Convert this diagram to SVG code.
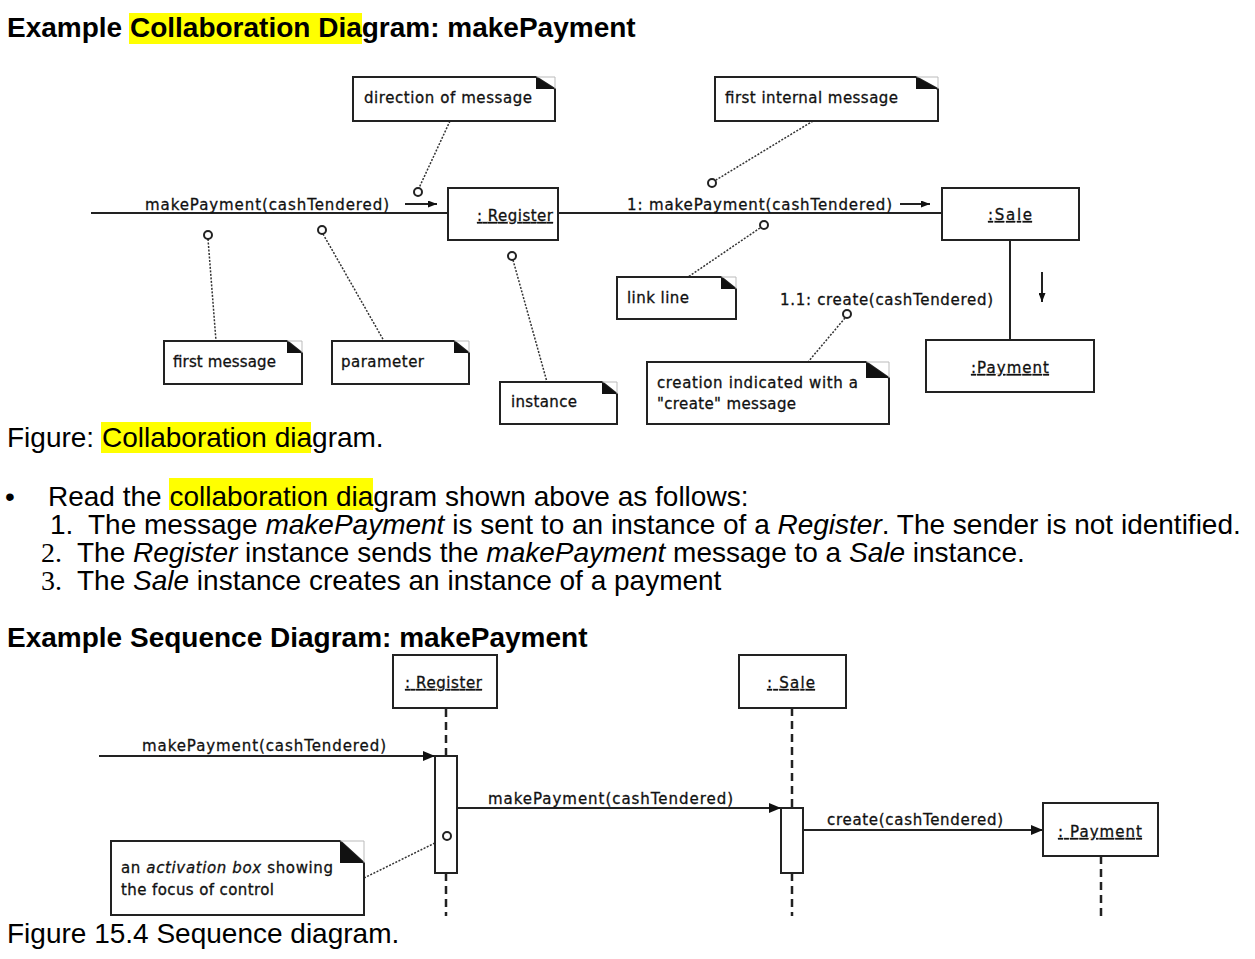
<svg xmlns="http://www.w3.org/2000/svg" width="1255" height="959" viewBox="0 0 1255 959">
<style>
.body{font-family:"Liberation Sans",Arial,sans-serif;font-size:28px;fill:#000}
.bold{font-weight:bold}
.serif{font-family:"Liberation Serif","Times New Roman",serif}
.lbl{font-family:"DejaVu Sans",Verdana,sans-serif;font-size:15px;fill:#111;stroke:#111;stroke-width:0.3}
.u{text-decoration:underline}
.box{fill:#fff;stroke:#222;stroke-width:2}
.fold{fill:#111}
.corner{fill:none;stroke:#bbb;stroke-width:1}
.link{stroke:#222;stroke-width:2;fill:none}
.dot{stroke:#333;stroke-width:1.5;stroke-dasharray:2 1.5;fill:none}
.circ{fill:#fff;stroke:#222;stroke-width:2}
.life{stroke:#222;stroke-width:2.5;stroke-dasharray:8 5;fill:none}
.hl{fill:#ffff00}
</style>
<defs>
<marker id="sm" markerUnits="userSpaceOnUse" markerWidth="9" markerHeight="7" refX="9" refY="3.5" orient="auto"><path d="M0,0 L9,3.5 L0,7 z" fill="#111"/></marker>
<marker id="big" markerUnits="userSpaceOnUse" markerWidth="12" markerHeight="10" refX="12" refY="5" orient="auto"><path d="M0,0 L12,5 L0,10 z" fill="#111"/></marker>
</defs>
<rect width="1255" height="959" fill="#fff"/>

<!-- text page -->
<rect class="hl" x="129" y="13" width="233" height="31"/>
<text class="body bold" x="7" y="37">Example Collaboration Diagram: makePayment</text>

<rect class="hl" x="101" y="422" width="210" height="31"/>
<text class="body" x="7" y="447">Figure: Collaboration diagram.</text>

<rect class="hl" x="169" y="478" width="204" height="32"/>
<text class="body" x="5" y="506">•</text>
<text class="body" x="48" y="506">Read the collaboration diagram shown above as follows:</text>
<text class="body" x="50" y="534">1.</text>
<text class="body" x="88" y="534">The message <tspan font-style="italic">makePayment</tspan> is sent to an instance of a <tspan font-style="italic">Register</tspan>. The sender is not identified.</text>
<text class="body serif" x="41" y="562">2.</text>
<text class="body" x="77" y="562">The <tspan font-style="italic">Register</tspan> instance sends the <tspan font-style="italic">makePayment</tspan> message to a <tspan font-style="italic">Sale</tspan> instance.</text>
<text class="body serif" x="41" y="590">3.</text>
<text class="body" x="77" y="590">The <tspan font-style="italic">Sale</tspan> instance creates an instance of a payment</text>

<text class="body bold" x="7" y="647">Example Sequence Diagram: makePayment</text>
<text class="body" x="7" y="943">Figure 15.4 Sequence diagram.</text>

<!-- collaboration connectors -->
<g id="collab-connectors">
<line class="link" x1="91" y1="213" x2="448" y2="213"/>
<line class="link" x1="558" y1="213" x2="942" y2="213"/>
<line class="link" x1="1010" y1="240" x2="1010" y2="340"/>
<line class="link" x1="405" y1="204" x2="437" y2="204" stroke-width="1.5" marker-end="url(#sm)"/>
<line class="link" x1="900" y1="204" x2="930" y2="204" stroke-width="1.5" marker-end="url(#sm)"/>
<line class="link" x1="1042" y1="272" x2="1042" y2="302" stroke-width="1.5" marker-end="url(#sm)"/>
<line class="dot" x1="450" y1="121" x2="419" y2="188"/>
<line class="dot" x1="208" y1="239" x2="216" y2="341"/>
<line class="dot" x1="323" y1="234" x2="384" y2="341"/>
<line class="dot" x1="513" y1="260" x2="547" y2="382"/>
<line class="dot" x1="813" y1="121" x2="716" y2="180"/>
<line class="dot" x1="760" y1="228" x2="688" y2="277"/>
<line class="dot" x1="845" y1="318" x2="808" y2="362"/>
<circle class="circ" cx="418" cy="192" r="4"/>
<circle class="circ" cx="208" cy="235" r="4"/>
<circle class="circ" cx="322" cy="230" r="4"/>
<circle class="circ" cx="512" cy="256" r="4"/>
<circle class="circ" cx="712" cy="183" r="4"/>
<circle class="circ" cx="764" cy="225" r="4"/>
<circle class="circ" cx="847" cy="314" r="4"/>
<text class="lbl" x="145" y="210" textLength="244" lengthAdjust="spacing">makePayment(cashTendered)</text>
<text class="lbl" x="627" y="210" textLength="265" lengthAdjust="spacing">1: makePayment(cashTendered)</text>
<text class="lbl" x="780" y="305" textLength="213" lengthAdjust="spacing">1.1: create(cashTendered)</text>
</g>

<!-- collaboration objects -->
<g id="c-register">
<rect class="box" x="448" y="188" width="110" height="52"/>
<text class="lbl u" x="477" y="221" textLength="76" lengthAdjust="spacing">: Register</text>
</g>
<g id="c-sale">
<rect class="box" x="942" y="188" width="137" height="52"/>
<text class="lbl u" x="988" y="220" textLength="44" lengthAdjust="spacing">:Sale</text>
</g>
<g id="c-payment">
<rect class="box" x="926" y="340" width="168" height="52"/>
<text class="lbl u" x="971" y="373" textLength="78" lengthAdjust="spacing">:Payment</text>
</g>

<!-- notes -->
<g id="n-direction">
<path class="box" d="M353,77 H536 L555,89 V121 H353 Z"/>
<path class="corner" d="M536,77 H555 V89"/>
<path class="fold" d="M536,77 L555,89 H536 Z"/>
<text class="lbl" x="364" y="103" textLength="168" lengthAdjust="spacing">direction of message</text>
</g>
<g id="n-first-internal">
<path class="box" d="M715,77 H916 L938,89 V121 H715 Z"/>
<path class="corner" d="M916,77 H938 V89"/>
<path class="fold" d="M916,77 L938,89 H916 Z"/>
<text class="lbl" x="725" y="103" textLength="173" lengthAdjust="spacing">first internal message</text>
</g>
<g id="n-first-message">
<path class="box" d="M164,341 H287 L302,353 V384 H164 Z"/>
<path class="corner" d="M287,341 H302 V353"/>
<path class="fold" d="M287,341 L302,353 H287 Z"/>
<text class="lbl" x="173" y="367" textLength="103" lengthAdjust="spacing">first message</text>
</g>
<g id="n-parameter">
<path class="box" d="M332,341 H454 L469,353 V384 H332 Z"/>
<path class="corner" d="M454,341 H469 V353"/>
<path class="fold" d="M454,341 L469,353 H454 Z"/>
<text class="lbl" x="341" y="367" textLength="83" lengthAdjust="spacing">parameter</text>
</g>
<g id="n-instance">
<path class="box" d="M500,382 H602 L617,394 V424 H500 Z"/>
<path class="corner" d="M602,382 H617 V394"/>
<path class="fold" d="M602,382 L617,394 H602 Z"/>
<text class="lbl" x="511" y="407" textLength="66" lengthAdjust="spacing">instance</text>
</g>
<g id="n-link-line">
<path class="box" d="M617,277 H721 L736,289 V319 H617 Z"/>
<path class="corner" d="M721,277 H736 V289"/>
<path class="fold" d="M721,277 L736,289 H721 Z"/>
<text class="lbl" x="627" y="303" textLength="62" lengthAdjust="spacing">link line</text>
</g>
<g id="n-creation">
<path class="box" d="M647,362 H866 L889,378 V424 H647 Z"/>
<path class="corner" d="M866,362 H889 V378"/>
<path class="fold" d="M866,362 L889,378 H866 Z"/>
<text class="lbl" x="657" y="388" textLength="201" lengthAdjust="spacing">creation indicated with a</text>
<text class="lbl" x="657" y="409" textLength="139" lengthAdjust="spacing">"create" message</text>
</g>

<!-- sequence diagram -->
<g id="seq-connectors">
<line class="life" x1="446" y1="709" x2="446" y2="756"/>
<line class="life" x1="446" y1="873" x2="446" y2="916"/>
<line class="life" x1="792" y1="708" x2="792" y2="808"/>
<line class="life" x1="792" y1="873" x2="792" y2="916"/>
<line class="life" x1="1101" y1="856" x2="1101" y2="918"/>
<line class="link" x1="99" y1="756" x2="435" y2="756" marker-end="url(#big)"/>
<line class="link" x1="457" y1="808" x2="781" y2="808" marker-end="url(#big)"/>
<line class="link" x1="803" y1="830" x2="1043" y2="830" marker-end="url(#big)"/>
<line class="dot" x1="364" y1="878" x2="443" y2="839"/>
<text class="lbl" x="142" y="751" textLength="244" lengthAdjust="spacing">makePayment(cashTendered)</text>
<text class="lbl" x="488" y="804" textLength="245" lengthAdjust="spacing">makePayment(cashTendered)</text>
<text class="lbl" x="827" y="825" textLength="176" lengthAdjust="spacing">create(cashTendered)</text>
</g>
<g id="s-register">
<rect class="box" x="393" y="655" width="104" height="53"/>
<text class="lbl u" x="405" y="688" textLength="77" lengthAdjust="spacing">: Register</text>
<rect class="box" x="435" y="756" width="22" height="117"/>
<circle class="circ" cx="447" cy="836" r="4"/>
</g>
<g id="s-sale">
<rect class="box" x="739" y="655" width="107" height="53"/>
<text class="lbl u" x="767" y="688" textLength="48" lengthAdjust="spacing">: Sale</text>
<rect class="box" x="781" y="808" width="22" height="65"/>
</g>
<g id="s-payment">
<rect class="box" x="1043" y="803" width="115" height="53"/>
<text class="lbl u" x="1058" y="837" textLength="84" lengthAdjust="spacing">: Payment</text>
</g>
<g id="s-note">
<path class="box" d="M111,841 H340 L364,863 V915 H111 Z"/>
<path class="corner" d="M340,841 H364 V863"/>
<path class="fold" d="M340,841 L364,863 H340 Z"/>
<text class="lbl" x="121" y="873" textLength="212" lengthAdjust="spacing">an <tspan font-style="italic">activation box</tspan> showing</text>
<text class="lbl" x="121" y="895" textLength="153" lengthAdjust="spacing">the focus of control</text>
</g>
</svg>
